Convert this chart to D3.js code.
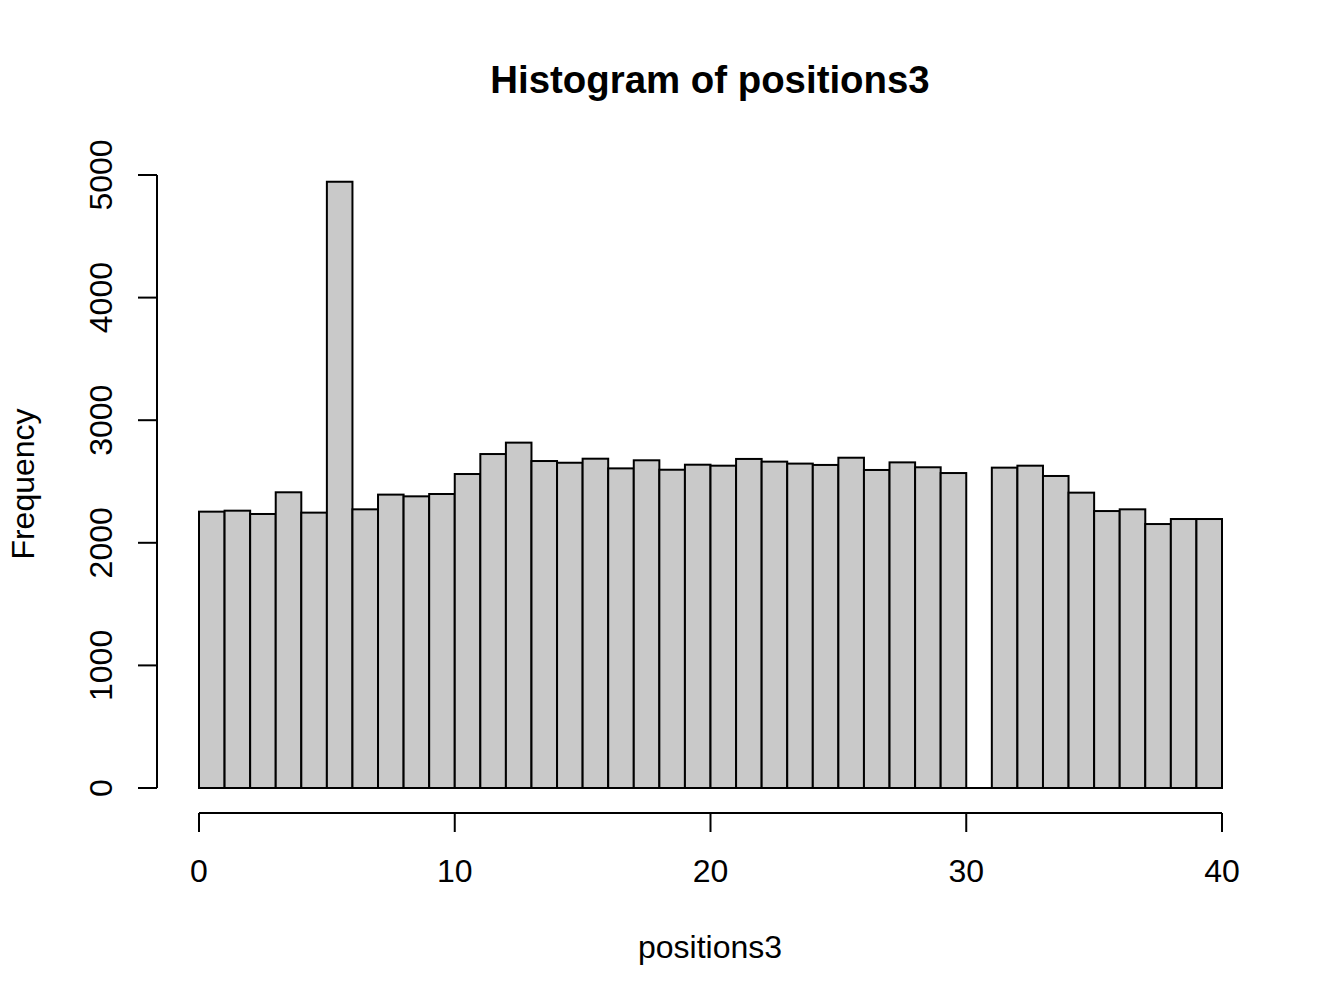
<!DOCTYPE html>
<html><head><meta charset="utf-8">
<script src="https://cdn.jsdelivr.net/npm/d3@7"></script>
<style>body{margin:0;background:#fff}svg{display:block}text{font-family:"Liberation Sans",Arial,sans-serif}</style>
</head><body>
<script>
const binStarts = d3.range(0, 40, 1);
const counts = [2254,2262,2235,2412,2246,4945,2273,2393,2379,2398,
                2561,2724,2817,2667,2653,2686,2607,2673,2596,2637,
                2629,2684,2662,2646,2635,2694,2594,2656,2616,2569,
                0,2613,2629,2545,2409,2259,2273,2153,2194,2194];
const xTicks = [0,10,20,30,40];
const yTicks = [0,1000,2000,3000,4000,5000];
const title = "Histogram of positions3";
const xLabel = "positions3";
const yLabel = "Frequency";

const W = 1344, H = 1008;
const svg = d3.select("body").append("svg").attr("width", W).attr("height", H);
const x = d3.scaleLinear().domain([0, 40]).range([199, 1222]);
const y = d3.scaleLinear().domain([0, 5000]).range([788, 175]);

const bars = svg.append("g");
bars.selectAll("rect").data(binStarts.filter((d, i) => counts[i] > 0)).enter().append("rect")
  .attr("x", d => x(d)).attr("width", d => x(d + 1) - x(d))
  .attr("y", d => y(counts[d])).attr("height", d => y(0) - y(counts[d]))
  .attr("fill", "#c9c9c9").attr("stroke", "#000")
  .attr("stroke-width", 2);
// zero-height bins drawn as a flat segment on the baseline
bars.selectAll("line").data(binStarts.filter((d, i) => counts[i] === 0)).enter().append("line")
  .attr("x1", d => x(d)).attr("x2", d => x(d + 1))
  .attr("y1", y(0)).attr("y2", y(0))
  .attr("stroke", "#000").attr("stroke-width", 2);

// x axis
const xa = svg.append("g").attr("transform", "translate(0,813)");
xa.append("line").attr("x1", x(0)).attr("x2", x(40)).attr("stroke", "#000").attr("stroke-width", 2);
xa.selectAll("line.t").data(xTicks).enter().append("line").attr("class", "t")
  .attr("x1", d => x(d)).attr("x2", d => x(d)).attr("y1", 0).attr("y2", 19)
  .attr("stroke", "#000").attr("stroke-width", 2);
xa.selectAll("text").data(xTicks).enter().append("text")
  .attr("x", d => x(d)).attr("y", 69).attr("text-anchor", "middle")
  .attr("font-size", 32).text(d => d);

// y axis
const ya = svg.append("g").attr("transform", "translate(157,0)");
ya.append("line").attr("y1", y(0)).attr("y2", y(5000)).attr("stroke", "#000").attr("stroke-width", 2);
ya.selectAll("line.t").data(yTicks).enter().append("line").attr("class", "t")
  .attr("y1", d => y(d)).attr("y2", d => y(d)).attr("x1", 0).attr("x2", -19)
  .attr("stroke", "#000").attr("stroke-width", 2);
ya.selectAll("text").data(yTicks).enter().append("text")
  .attr("transform", d => `translate(-45,${y(d)}) rotate(-90)`)
  .attr("text-anchor", "middle").attr("font-size", 32).text(d => d);

svg.append("text").attr("x", 710).attr("y", 93).attr("text-anchor", "middle")
  .attr("font-size", 38.4).attr("font-weight", "bold").text(title);
svg.append("text").attr("x", 710).attr("y", 958).attr("text-anchor", "middle")
  .attr("font-size", 32).text(xLabel);
svg.append("text").attr("transform", "translate(34,484) rotate(-90)")
  .attr("text-anchor", "middle").attr("font-size", 32).text(yLabel);
</script>
</body></html>
